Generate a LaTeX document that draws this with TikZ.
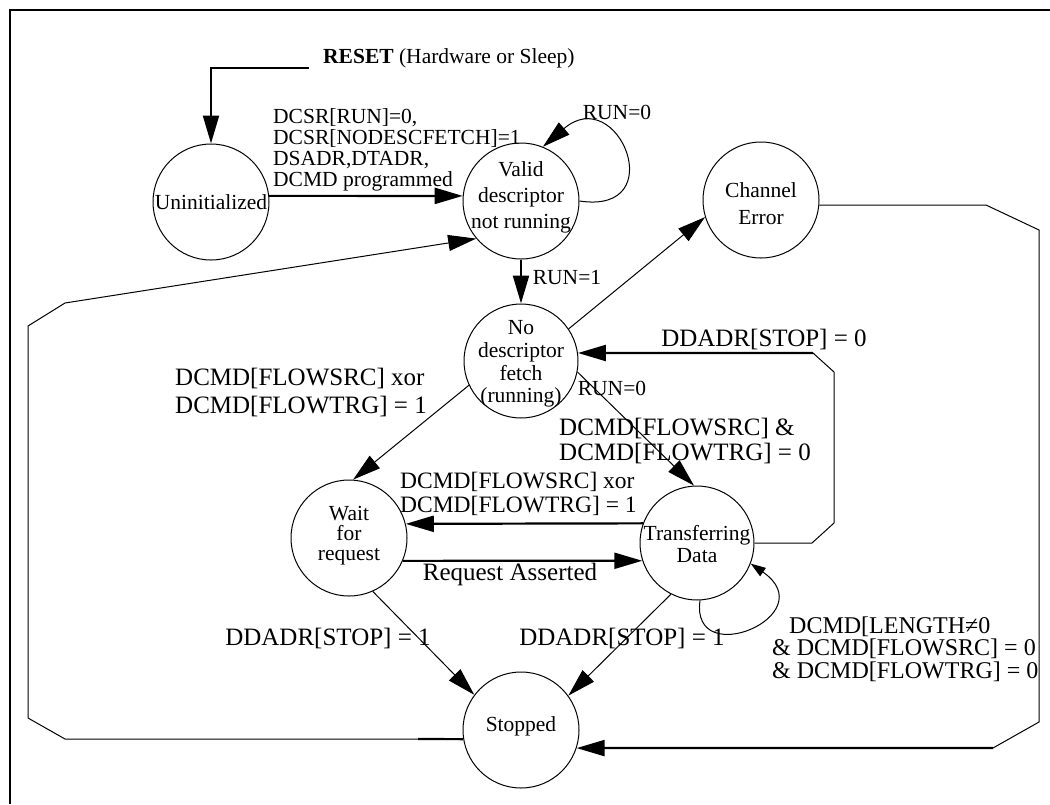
\documentclass[tikz,border=0pt]{standalone}
\usepackage{fontspec}
\setmainfont{Liberation Serif}
\usetikzlibrary{arrows.meta}
\begin{document}
\begin{tikzpicture}[x=1pt,y=-1pt,
  state/.style={draw,circle,minimum size=116pt,inner sep=0pt,line width=1pt},
  stxt/.style={align=center,inner sep=0pt},
  thinline/.style={line width=1pt},
  thickline/.style={line width=2.2pt},
  arr/.style={-{Triangle[length=28pt,width=16pt]}},
  sarr/.style={-{Triangle[length=15pt,width=10pt]}},
  lbl/.style={inner sep=0pt,font=\fontsize{25}{25}\selectfont},
  slbl/.style={inner sep=0pt,font=\fontsize{21.5}{21.5}\selectfont}]
\useasboundingbox (0,0) rectangle (1050,804);
% frame
\draw[line width=2.5pt] (1050,10) -- (10,10) -- (10,804);

% states
\node[state] (uninit) at (211,202) {};
\node[stxt,font=\fontsize{21.5}{22}\selectfont] (uninitT) at (211,202) {Uninitialized};
\node[state] (valid) at (521,201) {};
\node[stxt,font=\fontsize{21.5}{26}\selectfont] (validT) at (521,197) {Valid\\descriptor\\not running};
\node[state] (chan) at (761,200) {};
\node[stxt,font=\fontsize{21.5}{27}\selectfont] (chanT) at (761,204) {Channel\\Error};
\node[state,minimum size=114pt] (nodesc) at (521,361) {};
\node[stxt,font=\fontsize{21.5}{22.7}\selectfont] (nodescT) at (521,364) {No\\descriptor\\fetch\\(running)};
\node[state] (wait) at (349,538) {};
\node[stxt,font=\fontsize{21.5}{20}\selectfont] (waitT) at (349,536) {Wait\\for\\request};
\node[state,minimum size=114pt] (trans) at (697,543) {};
\node[stxt,font=\fontsize{21.5}{22}\selectfont] (transT) at (697,544) {Transferring\\Data};
\node[state] (stopped) at (521,730) {};
\node[stxt,font=\fontsize{21.5}{22}\selectfont] (stoppedT) at (521,726) {Stopped};

% reset
\node[slbl,anchor=west] (resetL) at (323,58) {\textbf{RESET} (Hardware or Sleep)};
\coordinate (rs) at (309,68);
\draw[thickline,arr] (rs) -| (uninit.north);

% uninit -> valid
\draw[thickline,arr] (uninit.6) -- (valid.175);
\node[slbl,anchor=west,align=left,font=\fontsize{21.5}{20.8}\selectfont] (initL) at (273,150)
  {DCSR[RUN]=0,\\DCSR[NODESCFETCH]=1\\DSADR,DTADR,\\DCMD programmed};

% valid self loop
\draw[thinline,arr] (valid.east) .. controls (672,215) and (618,82) .. (valid.68);
\node[slbl] (run0a) at (617,112) {RUN=0};

% valid -> nodesc
\draw[thickline,arr] (valid.south) -- (nodesc.north);
\node[slbl] (run1) at (567,278) {RUN=1};

% nodesc -> chan
\draw[thinline,arr] (nodesc.34) -- (chan.197);

% chan -> stopped
\coordinate (r1) at (986,205);
\coordinate (r2) at (1039,230);
\coordinate (r3) at (1039,722);
\coordinate (r4) at (993,748);
\draw[thinline] (chan.-5) -- (r1) -- (r2) -- (r3) -- (r4);
\draw[thickline,arr] (r4) -- (stopped.-18);

% stopped -> valid
\coordinate (l0) at (418,739);
\coordinate (l1) at (65,739);
\coordinate (l2) at (28,718);
\coordinate (l3) at (28,326);
\coordinate (l4) at (65,303);
\draw[thickline] (stopped.189) -- (l0);
\draw[thinline,arr] (l0) -- (l1) -- (l2) -- (l3) -- (l4) -- (valid.220);

% trans -> nodesc (DDADR[STOP]=0)
\coordinate (d1) at (812,543);
\coordinate (d2) at (834,523);
\coordinate (d3) at (834,372);
\coordinate (d4) at (813,353);
\draw[thinline] (trans.east) -- (d1) -- (d2) -- (d3) -- (d4);
\draw[thickline,arr] (d4) -- (nodesc.8);
\node[lbl] (stop0) at (764,339) {DDADR[STOP] = 0};
\node[slbl] (run0b) at (612,388) {RUN=0};

% nodesc -> wait
\draw[thinline,arr] (nodesc.205) -- (wait.86);
\node[lbl,anchor=west,align=left,font=\fontsize{25}{28}\selectfont] (xorL) at (175,392)
  {DCMD[FLOWSRC] xor\\DCMD[FLOWTRG] = 1};

% nodesc -> trans
\draw[thinline,arr] (nodesc.-11) -- (trans.93);
\node[lbl,anchor=west,align=left,font=\fontsize{25}{25}\selectfont] (andL) at (559,440.5)
  {DCMD[FLOWSRC] \&\\DCMD[FLOWTRG] = 0};

% trans -> wait
\draw[thickline,arr] (trans.160) -- (wait.14);
\node[lbl,anchor=west,align=left,font=\fontsize{23.5}{24}\selectfont] (xorU) at (400,494)
  {DCMD[FLOWSRC] xor\\DCMD[FLOWTRG] = 1};

% wait -> trans
\draw[thickline,arr] (wait.-23) -- (trans.198);
\node[lbl] (reqL) at (510,574) {Request Asserted};

% to stopped
\draw[thinline,arr] (wait.-66) -- (stopped.143);
\node[lbl] (stop1a) at (328,638) {DDADR[STOP] = 1};
\draw[thinline,arr] (trans.243) -- (stopped.36);
\node[lbl] (stop1b) at (622,638) {DDADR[STOP] = 1};

% trans self loop
\draw[thinline,sarr] (trans.-87) .. controls (690,672) and (825,615) .. (trans.-21);
\node[lbl,anchor=west,align=left,font=\fontsize{24}{22.5}\selectfont] (lenL) at (772,649)
  {\hspace*{17pt}DCMD[LENGTH≠0\\\& DCMD[FLOWSRC] = 0\\\& DCMD[FLOWTRG] = 0};
\end{tikzpicture}
\end{document}
